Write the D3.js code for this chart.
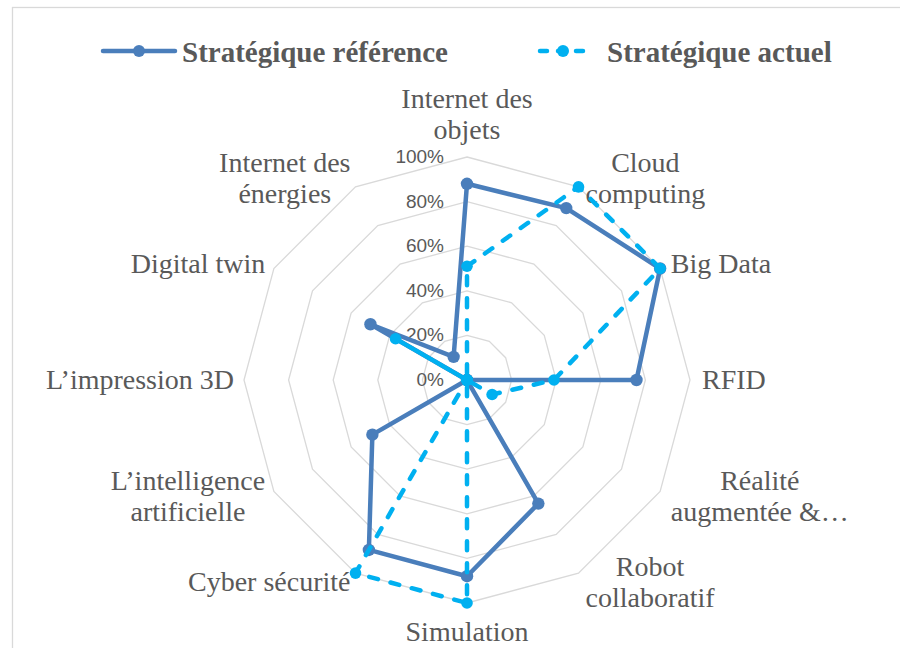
<!DOCTYPE html>
<html>
<head>
<meta charset="utf-8">
<script src="https://cdn.jsdelivr.net/npm/d3@7"></script>
<style>
  html, body { margin: 0; padding: 0; background: #ffffff; }
  svg { display: block; }
</style>
</head>
<body>
<svg id="chart" width="900" height="648"></svg>
<script>
// ---- Data ----
const categories = [
  "Internet des objets", "Cloud computing", "Big Data", "RFID",
  "Réalité augmentée &…", "Robot collaboratif", "Simulation", "Cyber sécurité",
  "L’intelligence artificielle", "L’impression  3D", "Digital twin", "Internet des énergies"
];
const categoryLines = [
  ["Internet des", "objets"], ["Cloud", "computing"], ["Big Data"], ["RFID"],
  ["Réalité", "augmentée &…"], ["Robot", "collaboratif"], ["Simulation"], ["Cyber sécurité"],
  ["L’intelligence", "artificielle"], ["L’impression  3D"], ["Digital twin"], ["Internet des", "énergies"]
];
const seriesNames = ["Stratégique référence", "Stratégique actuel"];
const reference = [0.88, 0.89, 1.00, 0.76, 0.00, 0.64, 0.88, 0.88, 0.49, 0.00, 0.50, 0.12];
const actuel    = [0.51, 1.00, 1.00, 0.39, 0.13, 0.00, 1.00, 1.00, 0.00, 0.00, 0.37, 0.00];
const tickValues = [0, 0.2, 0.4, 0.6, 0.8, 1.0];

// ---- Layout / style ----
const W = 900, H = 648;
const cx = 467, cy = 380, R = 223;
const colors = ["#4A7EBB", "#00B0F0"];
const textGray = "#595959";
const gridGray = "#D9D9D9";

const svg = d3.select("#chart");

// chart frame
svg.append("rect")
  .attr("x", 12.5).attr("y", 7.5)
  .attr("width", 1000).attr("height", 1000)
  .attr("fill", "#ffffff")
  .attr("stroke", gridGray).attr("stroke-width", 1.3);

const n = categories.length;
const angle = d3.scaleLinear().domain([0, n]).range([0, 2 * Math.PI]);
const r = d3.scaleLinear().domain([0, 1]).range([0, R]);

const g = svg.append("g").attr("transform", `translate(${cx},${cy})`);

// grid polygons
const ringLine = d3.lineRadial()
  .angle((d, i) => angle(i))
  .radius(d => r(d))
  .curve(d3.curveLinearClosed);

g.selectAll("path.ring")
  .data(tickValues.filter(t => t > 0))
  .join("path")
  .attr("class", "ring")
  .attr("d", t => ringLine(categories.map(() => t)))
  .attr("fill", "none")
  .attr("stroke", gridGray)
  .attr("stroke-width", 1.3);

// tick labels
const fmt = d3.format(".0%");
g.selectAll("text.tick")
  .data(tickValues)
  .join("text")
  .attr("class", "tick")
  .attr("x", -23)
  .attr("y", t => -r(t) + 1)
  .attr("text-anchor", "end")
  .attr("dominant-baseline", "middle")
  .attr("font-family", "'Liberation Sans', Arial, sans-serif")
  .attr("font-size", 19)
  .attr("fill", textGray)
  .text(t => fmt(t));

// category labels
const fs = 28, lh = 31, pad = 10;
categoryLines.forEach((lines, i) => {
  const a = angle(i);
  const s = Math.sin(a), c = Math.cos(a);
  const px = (R + pad) * s, py = -(R + pad) * c;
  const t = g.append("text")
    .attr("font-family", "'Liberation Serif', 'Times New Roman', serif")
    .attr("font-size", fs)
    .attr("fill", textGray)
    .attr("text-anchor", "middle");
  const spans = lines.map(l => t.append("tspan").text(l));
  const bw = d3.max(spans, sp => sp.node().getComputedTextLength());
  let bx;
  if (Math.abs(s) < 0.01) bx = px;
  else if (s > 0) bx = px + bw / 2 + 2;
  else bx = px - bw / 2;
  const m = lines.length;
  spans.forEach((sp, k) => {
    let y;
    if (Math.abs(s) < 0.01) {
      if (c > 0) y = py - 0.3 * fs - (m - 1 - k) * lh;
      else y = py + fs + k * lh;
    } else {
      y = py + (k - (m - 1) / 2) * lh + 0.33 * fs;
    }
    sp.attr("x", bx).attr("y", y);
  });
});

// series
const seriesData = [reference, actuel];
const seriesLine = d3.lineRadial()
  .angle((d, i) => angle(i))
  .radius(d => r(d))
  .curve(d3.curveLinearClosed);

seriesData.forEach((vals, si) => {
  g.append("path")
    .attr("d", seriesLine(vals))
    .attr("fill", "none")
    .attr("stroke", colors[si])
    .attr("stroke-width", 4.5)
    .attr("stroke-linejoin", "round")
    .attr("stroke-linecap", "round")
    .attr("stroke-dasharray", si === 1 ? "9,13" : null);
  g.selectAll(null)
    .data(vals)
    .join("circle")
    .attr("cx", (d, i) => r(d) * Math.sin(angle(i)))
    .attr("cy", (d, i) => -r(d) * Math.cos(angle(i)))
    .attr("r", si === 0 ? 6.2 : 5.8)
    .attr("fill", colors[si]);
});

// legend
const legendItems = [
  { x1: 103, x2: 175, tx: 182 },
  { x1: 540, x2: 590, tx: 607 }
];
legendItems.forEach((it, si) => {
  const ly = 51;
  svg.append("line")
    .attr("x1", it.x1).attr("x2", it.x2)
    .attr("y1", ly).attr("y2", ly)
    .attr("stroke", colors[si])
    .attr("stroke-width", 4.5)
    .attr("stroke-linecap", "round")
    .attr("stroke-dasharray", si === 1 ? "7,11" : null);
  svg.append("circle")
    .attr("cx", (it.x1 + it.x2) / 2 - (si === 1 ? 2 : 0)).attr("cy", ly)
    .attr("r", 6)
    .attr("fill", colors[si]);
  svg.append("text")
    .attr("x", it.tx).attr("y", 62)
    .attr("font-family", "'Liberation Serif', 'Times New Roman', serif")
    .attr("font-weight", "bold")
    .attr("font-size", 29)
    .attr("fill", textGray)
    .text(seriesNames[si]);
});
</script>
</body>
</html>
